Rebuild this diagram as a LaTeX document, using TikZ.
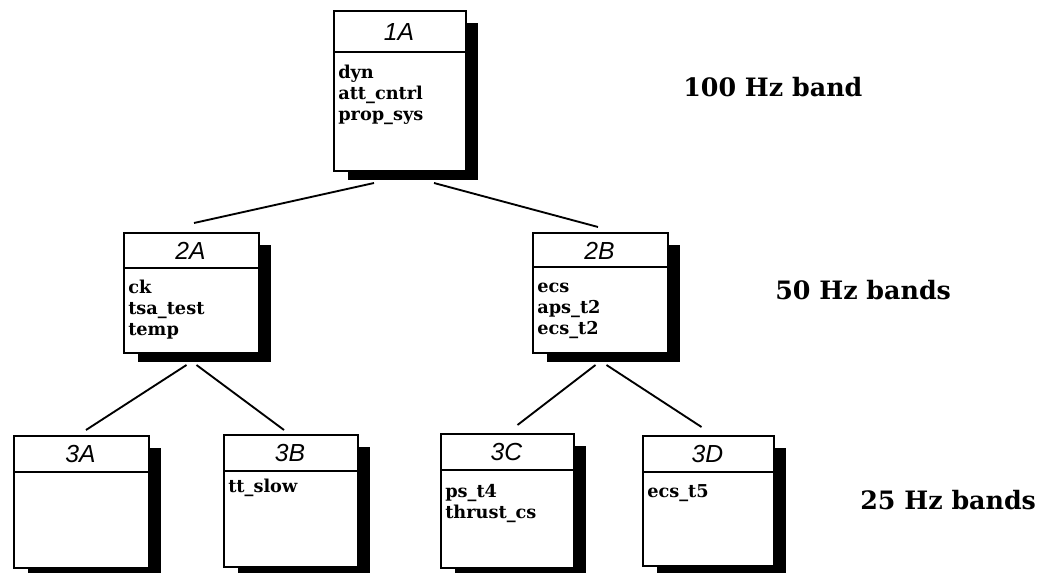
\documentclass[tikz,border=0pt]{standalone}
\usepackage{fontspec}
\setmainfont{DejaVu Serif}
\newfontfamily\titlefont{Liberation Sans}
\usetikzlibrary{calc}
\tikzset{
  boxframe/.style={draw=black, line width=1.5pt, fill=white, inner sep=0pt, anchor=north west},
  shadowfill/.style={fill=black},
  titletext/.style={font=\titlefont\itshape\fontsize{18.5}{18.5}\selectfont, inner sep=0pt},
  bodytext/.style={font=\bfseries\fontsize{13.3}{16}\selectfont, inner sep=0pt, anchor=north west, align=left},
  bandtext/.style={font=\bfseries\fontsize{19}{22}\selectfont, inner sep=0pt, anchor=base west},
  link/.style={draw=black, line width=1.4pt},
}
% #1 name, #2 L, #3 T, #4 R, #5 B, #6 separator y, #7 title, #8 body, #9 body top offset
\newcommand\umlbox[9]{%
  \fill[shadowfill] (#2+15,#3+13) rectangle (#4+13,#5+10);
  \node[boxframe, minimum width={(#4-#2)*0.75pt}, minimum height={(#5-#3)*0.75pt}] (b#1) at (#2,#3) {};
  \draw[line width=1.3pt] (#2,#6) -- (#4,#6);
  \node[titletext] (t#1) at ({(#2+#4)/2},{(#3+#6)/2+1}) {#7};
  \node[bodytext] (c#1) at (#2+5,#6+#9) {\strut#8};
}
\begin{document}
\begin{tikzpicture}[x=0.75pt,y=-0.75pt]
\useasboundingbox (0,0) rectangle (1050,573);

\umlbox{1A}{333}{10}{465}{170}{52}{1A}{dyn\\att\_cntrl\\prop\_sys}{11}
\umlbox{2A}{123}{232}{258}{352}{268}{2A}{ck\\tsa\_test\\temp}{10}
\umlbox{2B}{532}{232}{667}{352}{267}{2B}{ecs\\aps\_t2\\ecs\_t2}{10}
\umlbox{3A}{13}{435}{148}{567}{472}{3A}{}{10}
\umlbox{3B}{223}{434}{357}{566}{471}{3B}{tt\_slow}{6}
\umlbox{3C}{440}{433}{573}{567}{470}{3C}{ps\_t4\\thrust\_cs}{12}
\umlbox{3D}{642}{435}{773}{565}{472}{3D}{ecs\_t5}{10}

\draw[link] ($(b1A.south)+(-26,11)$) -- ($(b2A.north)+(2.5,-9)$);
\draw[link] ($(b1A.south)+(34,11)$) -- ($(b2B.north)+(-2.5,-5)$);
\draw[link] ($(b2A.south)+(-5,11)$) -- ($(b3A.north)+(4.5,-5)$);
\draw[link] ($(b2A.south)+(5,11)$) -- ($(b3B.north)+(-7,-4)$);
\draw[link] ($(b2B.south)+(-5,11)$) -- ($(b3C.north)+(10,-8)$);
\draw[link] ($(b2B.south)+(6,11)$) -- ($(b3D.north)+(-7,-8)$);

\node[bandtext] (band100) at (683,97) {100 Hz band};
\node[bandtext] (band50) at (775,300) {50 Hz bands};
\node[bandtext] (band25) at (860,509) {25 Hz bands};
\end{tikzpicture}
\end{document}
